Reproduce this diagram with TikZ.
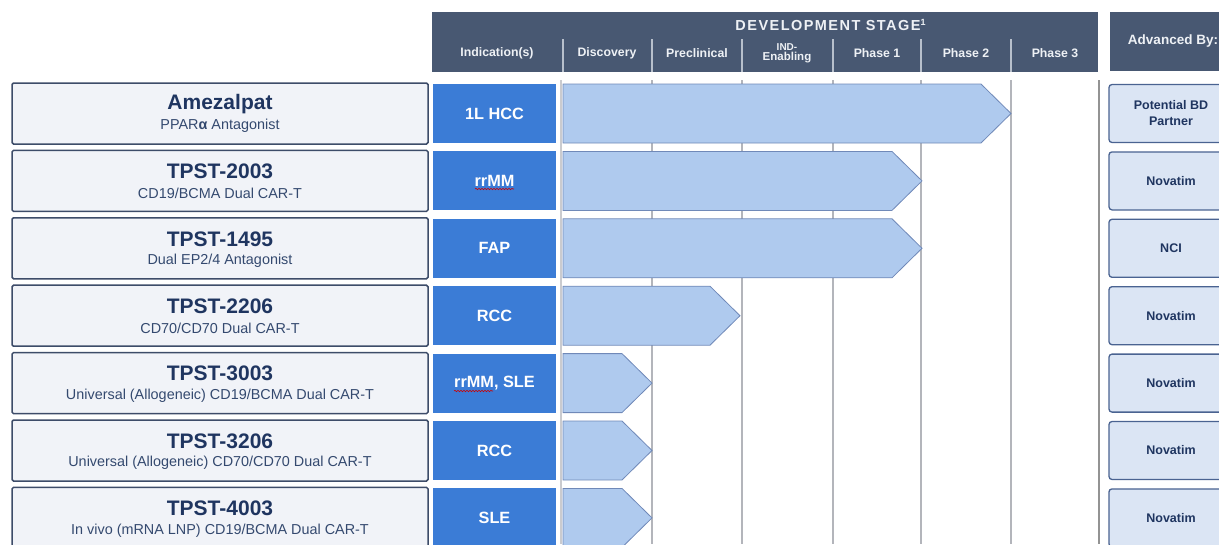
\documentclass[tikz,border=0pt]{standalone}
\usepackage{fontspec}
\setmainfont{Liberation Sans}
\usetikzlibrary{decorations.pathmorphing}

\definecolor{slate}{HTML}{485872}
\definecolor{hdrtext}{HTML}{EEF1F5}
\definecolor{hdrrule}{HTML}{B7BFCB}
\definecolor{navy}{HTML}{1F3560}
\definecolor{subnavy}{HTML}{34496F}
\definecolor{progfill}{HTML}{F1F3F8}
\definecolor{progedge}{HTML}{3D4C69}
\definecolor{indblue}{HTML}{3B7CD6}
\definecolor{barfill}{HTML}{AFCAEE}
\definecolor{baredge}{HTML}{7089B8}
\definecolor{advfill}{HTML}{DBE5F4}
\definecolor{advedge}{HTML}{4A6391}
\definecolor{gridgray}{HTML}{B3B5BB}

\newcommand{\fs}[1]{\fontsize{#1}{#1}\selectfont}

\tikzset{
  hdrlabel/.style={text=hdrtext, font=\fs{12.3}\bfseries, align=center, inner sep=0pt},
  progbox/.style={draw=progedge, line width=1.5pt, fill=progfill, rounded corners=1.5pt,
                  minimum width=416pt, minimum height=61pt, inner sep=0pt},
  progname/.style={text=navy, font=\fs{21}\bfseries, inner sep=0pt},
  progsub/.style={text=subnavy, font=\fs{14.4}, inner sep=0pt},
  indbox/.style={fill=indblue, text=white, font=\fs{16.3}\bfseries,
                 minimum width=123pt, minimum height=59pt, inner sep=0pt},
  stagebar/.style={fill=barfill, draw=baredge, line width=0.8pt, line join=miter},
  advbox/.style={draw=advedge, line width=1.3pt, fill=advfill, rounded corners=3pt,
                 minimum width=130pt, minimum height=58pt, inner sep=0pt},
  advtext/.style={text=navy, font=\fs{12.5}\bfseries, align=center, inner sep=0pt},
  gridline/.style={draw=gridgray, line width=1.1pt},
  spellmark/.style={draw=red!80!black, line width=0.6pt,
                    decorate, decoration={snake, amplitude=0.7pt, segment length=3pt}}
}

\begin{document}
\begin{tikzpicture}[x=1pt, y=-1pt]
\useasboundingbox (0,0) rectangle (1219,544);
\clip (0,0) rectangle (1219,544);

% ---- header bands ----
\fill[slate] (432,12) rectangle (1098,72);
\fill[slate] (1110,12) rectangle (1240,71);
\node[hdrlabel, font=\fs{14.5}\bfseries\addfontfeatures{LetterSpace=10}] (devstage) at (830.5,25)
  {DEVELOPMENT STAGE\raisebox{0.35em}{\fs{9}1}};
\foreach \x in {563,652,742,833,921,1011}
  \draw[draw=hdrrule, line width=1.3pt] (\x,39) -- (\x,72);
\node[hdrlabel] (hind) at (497,53) {Indication(s)};
\node[hdrlabel] (hdisc) at (607,53) {Discovery};
\node[hdrlabel] (hpre) at (697,53) {Preclinical};
\node[hdrlabel, font=\fs{11.5}\bfseries] (hind2) at (787,53.5) {{\fs{10}IND-}\\[-1pt]Enabling};
\node[hdrlabel] (hp1) at (877,53) {Phase 1};
\node[hdrlabel] (hp2) at (966,53) {Phase 2};
\node[hdrlabel] (hp3) at (1055,53) {Phase 3};
\node[hdrlabel, font=\fs{13.5}\bfseries] (hadv) at (1173,41) {Advanced By:};

% ---- stage grid ----
\draw[gridline, draw=gridgray!70, line width=1.6pt] (561,80) -- (561,544);
\foreach \x in {652,742,833,921,1011}
  \draw[gridline] (\x,80) -- (\x,544);
\draw[draw=gray!85, line width=2pt] (1099,80) -- (1099,544);

% ---- programme rows ----
\foreach \i/\nm/\sub/\ind/\tip/\adv in {
  0/Amezalpat/{PPAR{\bfseries α} Antagonist}/{1L HCC}/1011/{Potential BD\\[3.5pt]Partner},
  1/TPST-2003/{CD19/BCMA Dual CAR-T}/{rrMM}/922/Novatim,
  2/TPST-1495/{Dual EP2/4 Antagonist}/FAP/922/NCI,
  3/TPST-2206/{CD70/CD70 Dual CAR-T}/RCC/740/Novatim,
  4/TPST-3003/{Universal (Allogeneic) CD19/BCMA Dual CAR-T}/{rrMM, SLE}/652/Novatim,
  5/TPST-3206/{Universal (Allogeneic) CD70/CD70 Dual CAR-T}/RCC/652/Novatim,
  6/TPST-4003/{In vivo (mRNA LNP) CD19/BCMA Dual CAR-T}/SLE/652/Novatim}
{
  \pgfmathsetmacro{\t}{84+67.4*\i}
  \pgfmathsetmacro{\b}{\t+59}
  \pgfmathsetmacro{\m}{\t+29.5}
  \pgfmathsetmacro{\k}{\tip-30}
  \node[progbox] (prog\i) at (220,\m) {};
  \node[progname] (name\i) at (220,\t+20) {\nm};
  \node[progsub] (sub\i) at (220,\t+42) {\sub};
  \node[indbox] (ind\i) at (494.5,\m) {\ind};
  \draw[stagebar] (563,\t) -- (\k,\t) -- (\tip,\m) -- (\k,\b) -- (563,\b) -- cycle;
  \node[advbox] (adv\i) at (1174,\m) {};
  \node[advtext] (advt\i) at (1171,\m) {\adv};
}

% proofing underline beneath the rrMM abbreviations
\draw[spellmark] (475,189) -- (514,189);
\draw[spellmark] (454,391) -- (493,391);
\end{tikzpicture}
\end{document}
